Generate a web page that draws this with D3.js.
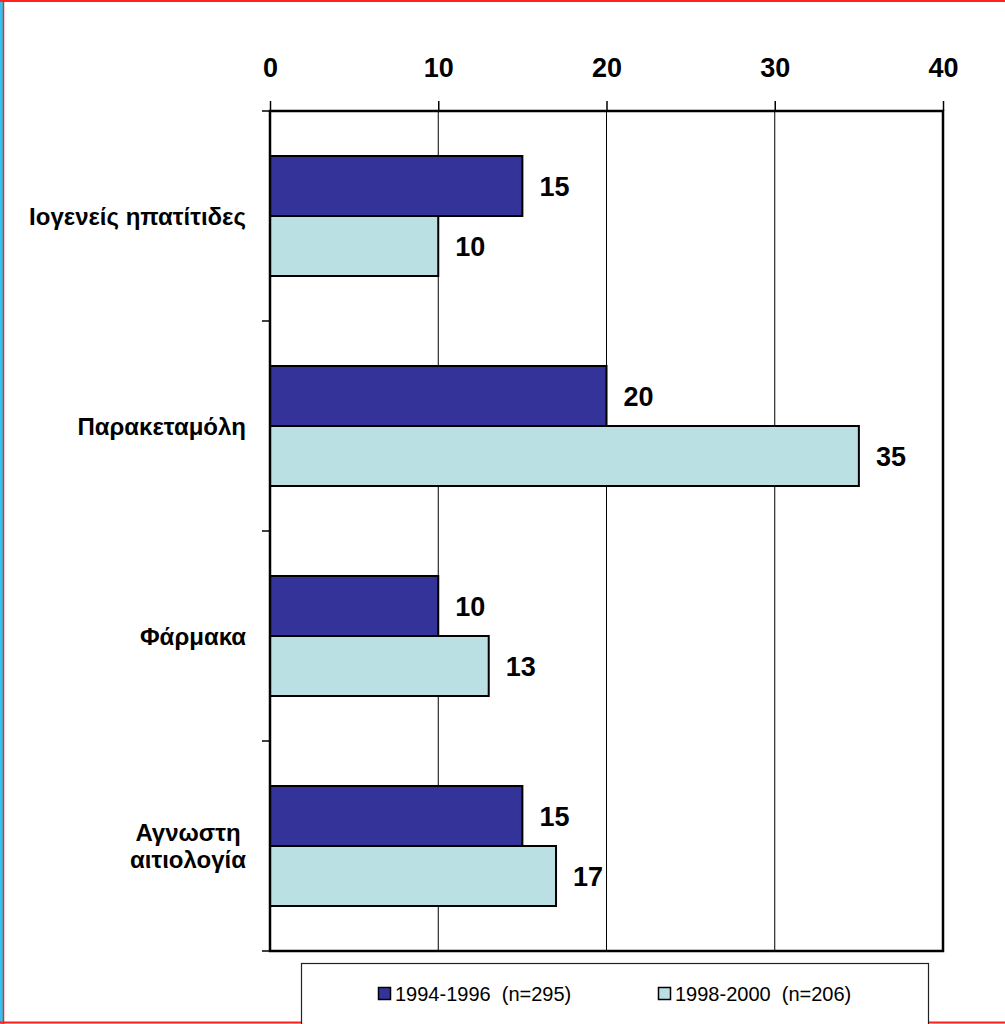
<!DOCTYPE html>
<html>
<head>
<meta charset="utf-8">
<script src="https://cdn.jsdelivr.net/npm/d3@7/dist/d3.min.js"></script>
<style>
  html, body { margin: 0; padding: 0; background: #fff; }
  svg { display: block; font-family: "Liberation Sans", Arial, sans-serif; }
</style>
</head>
<body>
<svg id="chart" width="1005" height="1024"></svg>
<script>
// Causes of acute liver failure, two periods (percent)
const categories = [["Ιογενείς ηπατίτιδες"], ["Παρακεταμόλη"], ["Φάρμακα"], ["Αγνωστη", "αιτιολογία"]];
const seriesNames = ["1994-1996  (n=295)", "1998-2000  (n=206)"];
const values1994 = [15, 20, 10, 15];
const values1998 = [10, 35, 13, 17];
const xTicks = [0, 10, 20, 30, 40];

const colors = ["#333399", "#BBE0E3"];
const svg = d3.select("#chart");

const plotL = 270, plotR = 943, plotT = 111, plotB = 951;

const x = d3.scaleLinear().domain([0, 40]).range([plotL, plotR]);
const yCat = d3.scaleBand().domain(d3.range(categories.length)).range([plotT, plotB]).padding(0);
const ySer = d3.scaleBand().domain(d3.range(seriesNames.length)).range([0, yCat.bandwidth()])
  .paddingInner(0).paddingOuter(0.75);

// page frame
svg.append("rect").attr("x", 0).attr("y", 0).attr("width", 3).attr("height", 1024).attr("fill", "#33c3f0");
svg.append("line").attr("x1", 3.5).attr("x2", 3.5).attr("y1", 0).attr("y2", 1024).attr("stroke", "#ff2020").attr("stroke-width", 1.5);
svg.append("line").attr("x1", 0).attr("x2", 1005).attr("y1", 1).attr("y2", 1).attr("stroke", "#ff2020").attr("stroke-width", 2);
svg.append("line").attr("x1", 0).attr("x2", 1005).attr("y1", 1022.5).attr("y2", 1022.5).attr("stroke", "#ff2020").attr("stroke-width", 2);

// vertical gridlines
svg.append("g").selectAll("line").data(xTicks.slice(1, -1)).join("line")
  .attr("x1", d => x(d)).attr("x2", d => x(d))
  .attr("y1", plotT).attr("y2", plotB)
  .attr("stroke", "#000").attr("stroke-width", 1);

// top axis
const xAxis = d3.axisTop(x).tickValues(xTicks).tickSize(10).tickPadding(24).tickFormat(d3.format("d"));
const gx = svg.append("g").attr("transform", `translate(0,${plotT})`).call(xAxis);
gx.select(".domain").remove();
gx.selectAll(".tick line").attr("stroke", "#000").attr("stroke-width", 1.5);
gx.selectAll(".tick text").attr("font-size", 27).attr("font-weight", "bold").attr("fill", "#000")
  .attr("font-family", "Liberation Sans, Arial, sans-serif");

// left axis ticks at band boundaries
const bounds = d3.range(categories.length + 1).map(i => plotT + i * yCat.step());
svg.append("g").selectAll("line").data(bounds).join("line")
  .attr("x1", plotL - 8).attr("x2", plotL)
  .attr("y1", d => d).attr("y2", d => d)
  .attr("stroke", "#000").attr("stroke-width", 1.5);

// bars
const rows = [];
categories.forEach((c, i) => {
  rows.push({ cat: i, s: 0, v: values1994[i] });
  rows.push({ cat: i, s: 1, v: values1998[i] });
});
svg.append("g").selectAll("rect").data(rows).join("rect")
  .attr("x", x(0))
  .attr("y", d => yCat(d.cat) + ySer(d.s))
  .attr("width", d => x(d.v) - x(0))
  .attr("height", ySer.bandwidth())
  .attr("fill", d => colors[d.s])
  .attr("stroke", "#000").attr("stroke-width", 2);

// value labels
svg.append("g").selectAll("text").data(rows).join("text")
  .attr("x", d => x(d.v) + 17)
  .attr("y", d => yCat(d.cat) + ySer(d.s) + ySer.bandwidth() / 2)
  .attr("dy", "0.36em")
  .attr("font-size", 27).attr("font-weight", "bold")
  .text(d => d.v);

// plot frame
svg.append("rect").attr("x", plotL).attr("y", plotT).attr("width", plotR - plotL).attr("height", plotB - plotT)
  .attr("fill", "none").attr("stroke", "#000").attr("stroke-width", 2.5);

// category labels
const labelRight = 246, lineH = 27;
categories.forEach((lines, i) => {
  const cy = yCat(i) + yCat.bandwidth() / 2;
  const g = svg.append("g");
  const texts = lines.map((t, j) => g.append("text")
    .attr("y", cy + (j - (lines.length - 1) / 2) * lineH)
    .attr("dy", "0.36em")
    .attr("font-size", 24).attr("font-weight", "bold")
    .text(t));
  const widths = texts.map(t => t.node().getComputedTextLength());
  const maxW = d3.max(widths);
  const cx = labelRight - maxW / 2;
  texts.forEach(t => t.attr("x", cx).attr("text-anchor", "middle"));
});

// legend
const legend = svg.append("g");
legend.append("rect").attr("x", 301.5).attr("y", 963.5).attr("width", 627).attr("height", 80)
  .attr("fill", "#fff").attr("stroke", "#222").attr("stroke-width", 1.2);
const legendX = [378, 658];
seriesNames.forEach((name, i) => {
  legend.append("rect").attr("x", legendX[i] + 0.5).attr("y", 987.5).attr("width", 12).attr("height", 12)
    .attr("fill", colors[i]).attr("stroke", "#000").attr("stroke-width", 1.5);
  legend.append("text").attr("x", legendX[i] + 17).attr("y", 1001)
    .attr("font-size", 20).style("white-space", "pre").text(name);
});
</script>
</body>
</html>
